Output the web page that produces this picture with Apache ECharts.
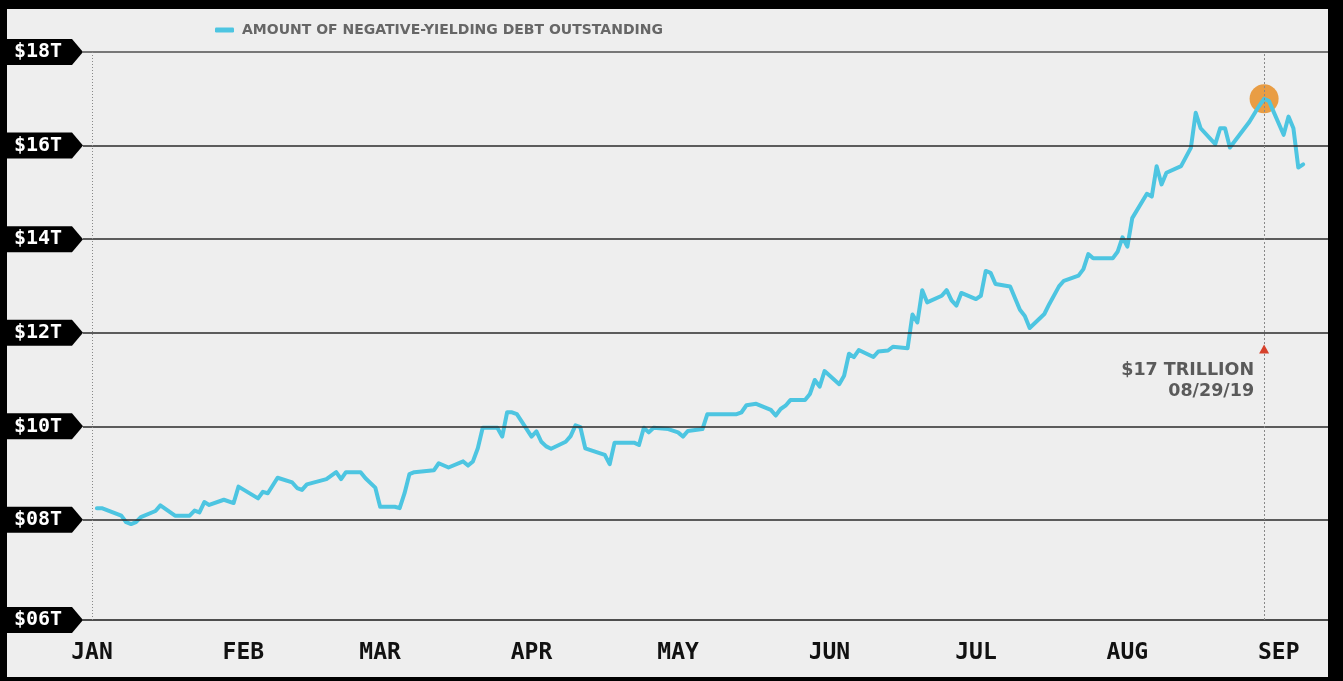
<!DOCTYPE html>
<html><head><meta charset="utf-8">
<script src="https://cdn.jsdelivr.net/npm/echarts@6/dist/echarts.min.js"></script>
<style>
html,body{margin:0;padding:0;background:#000;width:1343px;height:681px;overflow:hidden}
#chart{position:absolute;left:7px;top:9px;width:1321px;height:668px}
</style></head><body><div id="chart"></div>
<script>
const SERIES_NAME = 'AMOUNT OF NEGATIVE-YIELDING DEBT OUTSTANDING';
const DATES = [
'2019-01-02','2019-01-03','2019-01-07','2019-01-08','2019-01-09','2019-01-10','2019-01-11','2019-01-14','2019-01-15','2019-01-18',
'2019-01-21','2019-01-22','2019-01-23','2019-01-24','2019-01-25','2019-01-28','2019-01-30','2019-01-31','2019-02-04','2019-02-05',
'2019-02-06','2019-02-08','2019-02-11','2019-02-12','2019-02-13','2019-02-14','2019-02-18','2019-02-20','2019-02-21','2019-02-22',
'2019-02-25','2019-02-26','2019-02-28','2019-03-01','2019-03-04','2019-03-05','2019-03-06','2019-03-07','2019-03-08','2019-03-12',
'2019-03-13','2019-03-15','2019-03-18','2019-03-19','2019-03-20','2019-03-21','2019-03-22','2019-03-25','2019-03-26','2019-03-27',
'2019-03-28','2019-03-29','2019-04-01','2019-04-02','2019-04-03','2019-04-04','2019-04-05','2019-04-08','2019-04-09','2019-04-10',
'2019-04-11','2019-04-12','2019-04-16','2019-04-17','2019-04-18','2019-04-22','2019-04-23','2019-04-24','2019-04-25','2019-04-26',
'2019-04-29','2019-05-01','2019-05-02','2019-05-03','2019-05-06','2019-05-07','2019-05-13','2019-05-14','2019-05-15','2019-05-17',
'2019-05-20','2019-05-21','2019-05-22','2019-05-23','2019-05-24','2019-05-27','2019-05-28','2019-05-29','2019-05-30','2019-05-31',
'2019-06-03','2019-06-04','2019-06-05','2019-06-06','2019-06-07','2019-06-10','2019-06-11','2019-06-13','2019-06-14','2019-06-17',
'2019-06-18','2019-06-19','2019-06-20','2019-06-21','2019-06-24','2019-06-25','2019-06-26','2019-06-27','2019-06-28','2019-07-01',
'2019-07-02','2019-07-03','2019-07-04','2019-07-05','2019-07-08','2019-07-10','2019-07-11','2019-07-12','2019-07-15','2019-07-16',
'2019-07-18','2019-07-19','2019-07-22','2019-07-23','2019-07-24','2019-07-25','2019-07-29','2019-07-30','2019-07-31','2019-08-01',
'2019-08-02','2019-08-05','2019-08-06','2019-08-07','2019-08-08','2019-08-09','2019-08-12','2019-08-14','2019-08-15','2019-08-16',
'2019-08-19','2019-08-20','2019-08-21','2019-08-22','2019-08-26','2019-08-28','2019-08-29','2019-08-30','2019-09-02','2019-09-03',
'2019-09-04','2019-09-05','2019-09-06'
];
const VALUES = [
8.25,8.25,8.09,7.95,7.91,7.95,8.06,8.19,8.31,8.09,
8.09,8.20,8.16,8.38,8.32,8.43,8.36,8.71,8.46,8.60,
8.57,8.90,8.80,8.68,8.64,8.76,8.87,9.02,8.87,9.02,
9.02,8.89,8.69,8.28,8.28,8.25,8.57,8.98,9.02,9.06,
9.21,9.12,9.25,9.16,9.25,9.53,9.97,9.97,9.78,10.30,
10.30,10.26,9.78,9.89,9.67,9.57,9.52,9.67,9.79,10.02,
9.98,9.53,9.39,9.19,9.65,9.65,9.60,9.97,9.87,9.97,
9.94,9.87,9.78,9.90,9.94,10.26,10.26,10.30,10.45,10.48,
10.35,10.23,10.37,10.44,10.56,10.56,10.69,10.99,10.85,11.18,
10.90,11.08,11.55,11.48,11.63,11.48,11.60,11.62,11.70,11.67,
12.39,12.22,12.91,12.65,12.79,12.91,12.69,12.58,12.85,12.72,
12.79,13.32,13.28,13.04,12.99,12.49,12.36,12.10,12.40,12.61,
12.99,13.11,13.22,13.36,13.68,13.59,13.59,13.73,14.04,13.84,
14.45,14.97,14.91,15.56,15.17,15.42,15.56,15.95,16.70,16.37,
16.03,16.37,16.37,15.96,16.51,16.85,17.00,16.95,16.23,16.62,
16.37,15.53,15.60
];
const Y_MIN = 5.86, Y_MAX = 18;
const Y_TICK_VALUES = [5.86, 8, 10, 12, 14, 16, 18];
const Y_TICK_LABELS = ['$06T','$08T','$10T','$12T','$14T','$16T','$18T'];
const GRID_VALUES = [8, 10, 12, 14, 16];
const MONTH_STARTS = ['2019-01-01','2019-02-01','2019-03-01','2019-04-01','2019-05-01','2019-06-01','2019-07-01','2019-08-01','2019-09-01'];
const MONTH_LABELS = ['JAN','FEB','MAR','APR','MAY','JUN','JUL','AUG','SEP'];
const X_MIN = '2018-12-30T03:47:00';
const X_MAX = '2019-09-11T02:00:00';
const PEAK_DATE = '2019-08-29';
const PEAK_VALUE = 17.0;
const PEAK_TEXT = ['$17 TRILLION', '08/29/19'];

const t = s => new Date(s.length === 10 ? s + 'T00:00:00' : s).getTime();
const lineData = DATES.map((d, i) => [t(d), VALUES[i]]);
const monthTs = MONTH_STARTS.map(t);

const chart = echarts.init(document.getElementById('chart'));
const option = {
  backgroundColor: '#eeeeee',
  animation: false,
  legend: {
    data: [SERIES_NAME],
    left: 208, top: 13, padding: 0,
    icon: 'roundRect', itemWidth: 19, itemHeight: 5, itemGap: 8,
    textStyle: { color: '#666', fontSize: 14, fontWeight: 'bold', fontFamily: 'DejaVu Sans', lineHeight: 16, padding: [0, 0, 0, 3] }
  },
  grid: { left: 76, right: 0, top: 43, bottom: 57, containLabel: false },
  xAxis: {
    type: 'value', min: t(X_MIN), max: t(X_MAX), scale: true,
    axisLine: { show: true, lineStyle: { color: '#1a1a1a', width: 1.5 } },
    axisTick: { show: false },
    splitLine: { show: false },
    axisLabel: {
      customValues: monthTs,
      formatter: v => { const i = monthTs.indexOf(v); return i >= 0 ? MONTH_LABELS[i] : ''; },
      color: '#111', fontSize: 23, fontWeight: 'bold', fontFamily: 'DejaVu Sans Mono', margin: 22,
      showMinLabel: true, showMaxLabel: true
    }
  },
  yAxis: {
    type: 'value', min: Y_MIN, max: Y_MAX,
    axisLine: { show: false }, axisTick: { show: false }, axisLabel: { show: false }, splitLine: { show: false }
  },
  series: [
    {
      name: 'peak', type: 'scatter', z: 1, silent: true,
      data: [[t(PEAK_DATE), PEAK_VALUE]],
      symbolSize: 29, itemStyle: { color: '#e8983a', opacity: 0.95 },
      markPoint: {
        silent: true,
        data: [
          { coord: [t(PEAK_DATE), 11.65], symbol: 'triangle', symbolSize: [10, 9], itemStyle: { color: '#d6412b' }, label: { show: false } },
          { coord: [t(PEAK_DATE), 10.97], symbol: 'circle', symbolSize: 0,
            label: { show: true, position: 'left', distance: 10, formatter: PEAK_TEXT.join('\n'), align: 'right',
              color: '#5a5a5a', fontSize: 17.5, fontWeight: 'bold', fontFamily: 'DejaVu Sans', lineHeight: 21 } }
        ]
      }
    },
    {
      name: SERIES_NAME, type: 'line', z: 3,
      data: lineData, showSymbol: false, symbol: 'none',
      lineStyle: { color: '#4dc5e1', width: 4, join: 'round', cap: 'round' },
      itemStyle: { color: '#4dc5e1' },
      markLine: {
        silent: true, symbol: ['none', 'none'], label: { show: false },
        data: [
          ...GRID_VALUES.map(v => ({ yAxis: v, lineStyle: { color: '#2a2a2a', width: 1.5, type: 'solid' } })),
          { yAxis: Y_MAX, lineStyle: { color: '#777', width: 2, type: 'solid' } },
          { xAxis: t(MONTH_STARTS[0]), lineStyle: { color: '#888', width: 1, type: [1, 2] } },
          { xAxis: t(PEAK_DATE), lineStyle: { color: '#888', width: 1, type: [2, 2] } }
        ]
      }
    }
  ]
};
chart.setOption(option);

const tags = Y_TICK_VALUES.map((v, i) => {
  const y = chart.convertToPixel({ yAxisIndex: 0 }, v);
  return {
    type: 'group', z: 100,
    children: [
      { type: 'polygon', z: 100, shape: { points: [[0, y - 13], [65, y - 13], [76, y], [65, y + 13], [0, y + 13]] }, style: { fill: '#000' } },
      { type: 'text', z: 101, x: 31, y: y, style: { text: Y_TICK_LABELS[i], fill: '#fff', fontSize: 20, fontWeight: 'bold', fontFamily: 'DejaVu Sans Mono', align: 'center', verticalAlign: 'middle' } }
    ]
  };
});
chart.setOption({ graphic: tags });
</script></body></html>
